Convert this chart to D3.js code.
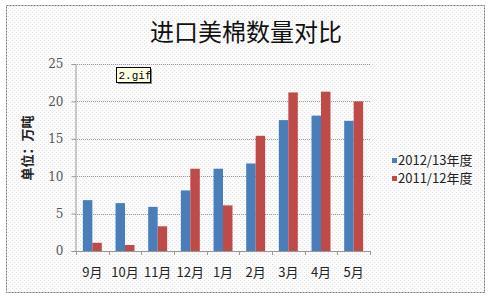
<!DOCTYPE html>
<html>
<head>
<meta charset="utf-8">
<script src="https://cdn.jsdelivr.net/npm/d3@7"></script>
<style>
  body { margin: 0; background: #fff; }
  svg { font-family: "Noto Sans CJK SC", "DejaVu Sans", sans-serif; }
</style>
</head>
<body>
<div class="chart"></div>
<script>
// data
const months = ['9月', '10月', '11月', '12月', '1月', '2月', '3月', '4月', '5月'];
const season1213 = [6.8, 6.4, 5.9, 8.1, 11.0, 11.7, 17.5, 18.1, 17.4];
const season1112 = [1.1, 0.8, 3.3, 11.0, 6.1, 15.4, 21.2, 21.3, 20.0];
const seriesNames = ['2012/13年度', '2011/12年度'];
const yTicks = [0, 5, 10, 15, 20, 25];

const width = 490, height = 298;
const margin = {left: 75, right: 120, top: 64, bottom: 47};

const svg = d3.select('.chart').append('svg')
    .attr('width', width)
    .attr('height', height);

// dotted background texture
const defs = svg.append('defs');
const pat = defs.append('pattern')
    .attr('id', 'dots')
    .attr('width', 4).attr('height', 4)
    .attr('patternUnits', 'userSpaceOnUse');
pat.append('rect').attr('width', 4).attr('height', 4).attr('fill', '#fbfbfb');
pat.append('rect').attr('x', 0).attr('y', 0).attr('width', 1).attr('height', 1).attr('fill', '#e2e2e2');
pat.append('rect').attr('x', 2).attr('y', 2).attr('width', 1).attr('height', 1).attr('fill', '#e2e2e2');

svg.append('rect')
    .attr('x', 6.5).attr('y', 5.5)
    .attr('width', 478).attr('height', 287)
    .attr('fill', 'url(#dots)')
    .attr('stroke', '#777')
    .attr('stroke-dasharray', '2,1');

svg.append('text')
    .attr('x', 246)
    .attr('y', 41)
    .attr('text-anchor', 'middle')
    .attr('font-size', 24)
    .attr('fill', '#111')
    .text('进口美棉数量对比');

const x = d3.scaleBand()
    .domain(months)
    .range([margin.left + 1, width - margin.right])
    .paddingInner(0.42)
    .paddingOuter(0.21);

const xInner = d3.scaleBand()
    .domain([0, 1])
    .range([0, x.bandwidth()]);

const y = d3.scaleLinear()
    .domain([0, 25])
    .range([height - margin.bottom, margin.top]);

// gridlines
svg.append('g')
    .selectAll('line')
    .data(yTicks.slice(1))
    .enter()
    .append('line')
    .attr('x1', margin.left)
    .attr('x2', width - margin.right)
    .attr('y1', d => Math.round(y(d)) + 0.5)
    .attr('y2', d => Math.round(y(d)) + 0.5)
    .attr('stroke', '#999')
    .attr('stroke-dasharray', '1,1');

// y axis
const yAxis = svg.append('g')
    .attr('transform', 'translate(' + (margin.left + 0.5) + ',0)')
    .call(d3.axisLeft(y).tickValues(yTicks).tickSize(4).tickPadding(8));
yAxis.select('.domain').attr('stroke', '#999');
yAxis.selectAll('.tick line').attr('stroke', '#999');
yAxis.selectAll('text').attr('font-size', 12).attr('fill', '#555')
    .style('font-family', '"DejaVu Serif", serif');

svg.append('text')
    .attr('transform', 'translate(32,' + 148 + ') rotate(-90)')
    .attr('text-anchor', 'middle')
    .attr('font-size', 13)
    .attr('font-weight', 'bold')
    .attr('fill', '#222')
    .text('单位：万吨');

// bars
const groups = svg.selectAll('.grp')
    .data(months)
    .enter()
    .append('g')
    .attr('class', 'grp')
    .attr('transform', d => 'translate(' + x(d) + ',0)');

const colors = ['#4a7ebb', '#be4b48'];
[season1213, season1112].forEach((vals, s) => {
    groups.append('rect')
        .attr('x', xInner(s))
        .attr('width', xInner.bandwidth())
        .attr('y', (d, i) => y(vals[i]))
        .attr('height', (d, i) => y(0) - y(vals[i]))
        .attr('fill', colors[s]);
});

// x axis with ticks between categories
const step = x.step();
const bottom = y(0);
svg.append('line')
    .attr('x1', margin.left).attr('x2', width - margin.right)
    .attr('y1', bottom + 0.5).attr('y2', bottom + 0.5)
    .attr('stroke', '#999');
svg.append('g')
    .selectAll('line')
    .data(d3.range(months.length + 1))
    .enter()
    .append('line')
    .attr('x1', i => Math.round(margin.left + 1 + i * step) + 0.5)
    .attr('x2', i => Math.round(margin.left + 1 + i * step) + 0.5)
    .attr('y1', bottom)
    .attr('y2', bottom + 4)
    .attr('stroke', '#999');

svg.append('g')
    .selectAll('text')
    .data(months)
    .enter()
    .append('text')
    .attr('x', d => x(d) + x.bandwidth() / 2)
    .attr('y', bottom + 26)
    .attr('text-anchor', 'middle')
    .attr('font-size', 13)
    .attr('fill', '#222')
    .text(d => d);

// legend
const legend = svg.append('g')
    .attr('transform', 'translate(392,161)');
seriesNames.forEach((name, i) => {
    legend.append('rect')
        .attr('x', 0).attr('y', i * 18 - 3)
        .attr('width', 5).attr('height', 5)
        .attr('fill', colors[i]);
    legend.append('text')
        .attr('x', 6).attr('y', i * 18 + 4)
        .attr('font-size', 13)
        .attr('fill', '#222')
        .text(name);
});

// tooltip box "2.gif"
const tip = svg.append('g').attr('transform', 'translate(116,67)');
tip.append('rect')
    .attr('x', 2).attr('y', 2).attr('width', 34).attr('height', 15)
    .attr('fill', '#888');
tip.append('rect')
    .attr('x', 0.5).attr('y', 0.5).attr('width', 34).attr('height', 15)
    .attr('fill', '#ffffe1').attr('stroke', '#000');
tip.append('text')
    .attr('x', 2.5).attr('y', 12)
    .attr('font-size', 11)
    .style('font-family', '"Liberation Mono", "DejaVu Sans Mono", monospace')
    .attr('fill', '#000')
    .text('2.gif');
</script>
</body>
</html>
